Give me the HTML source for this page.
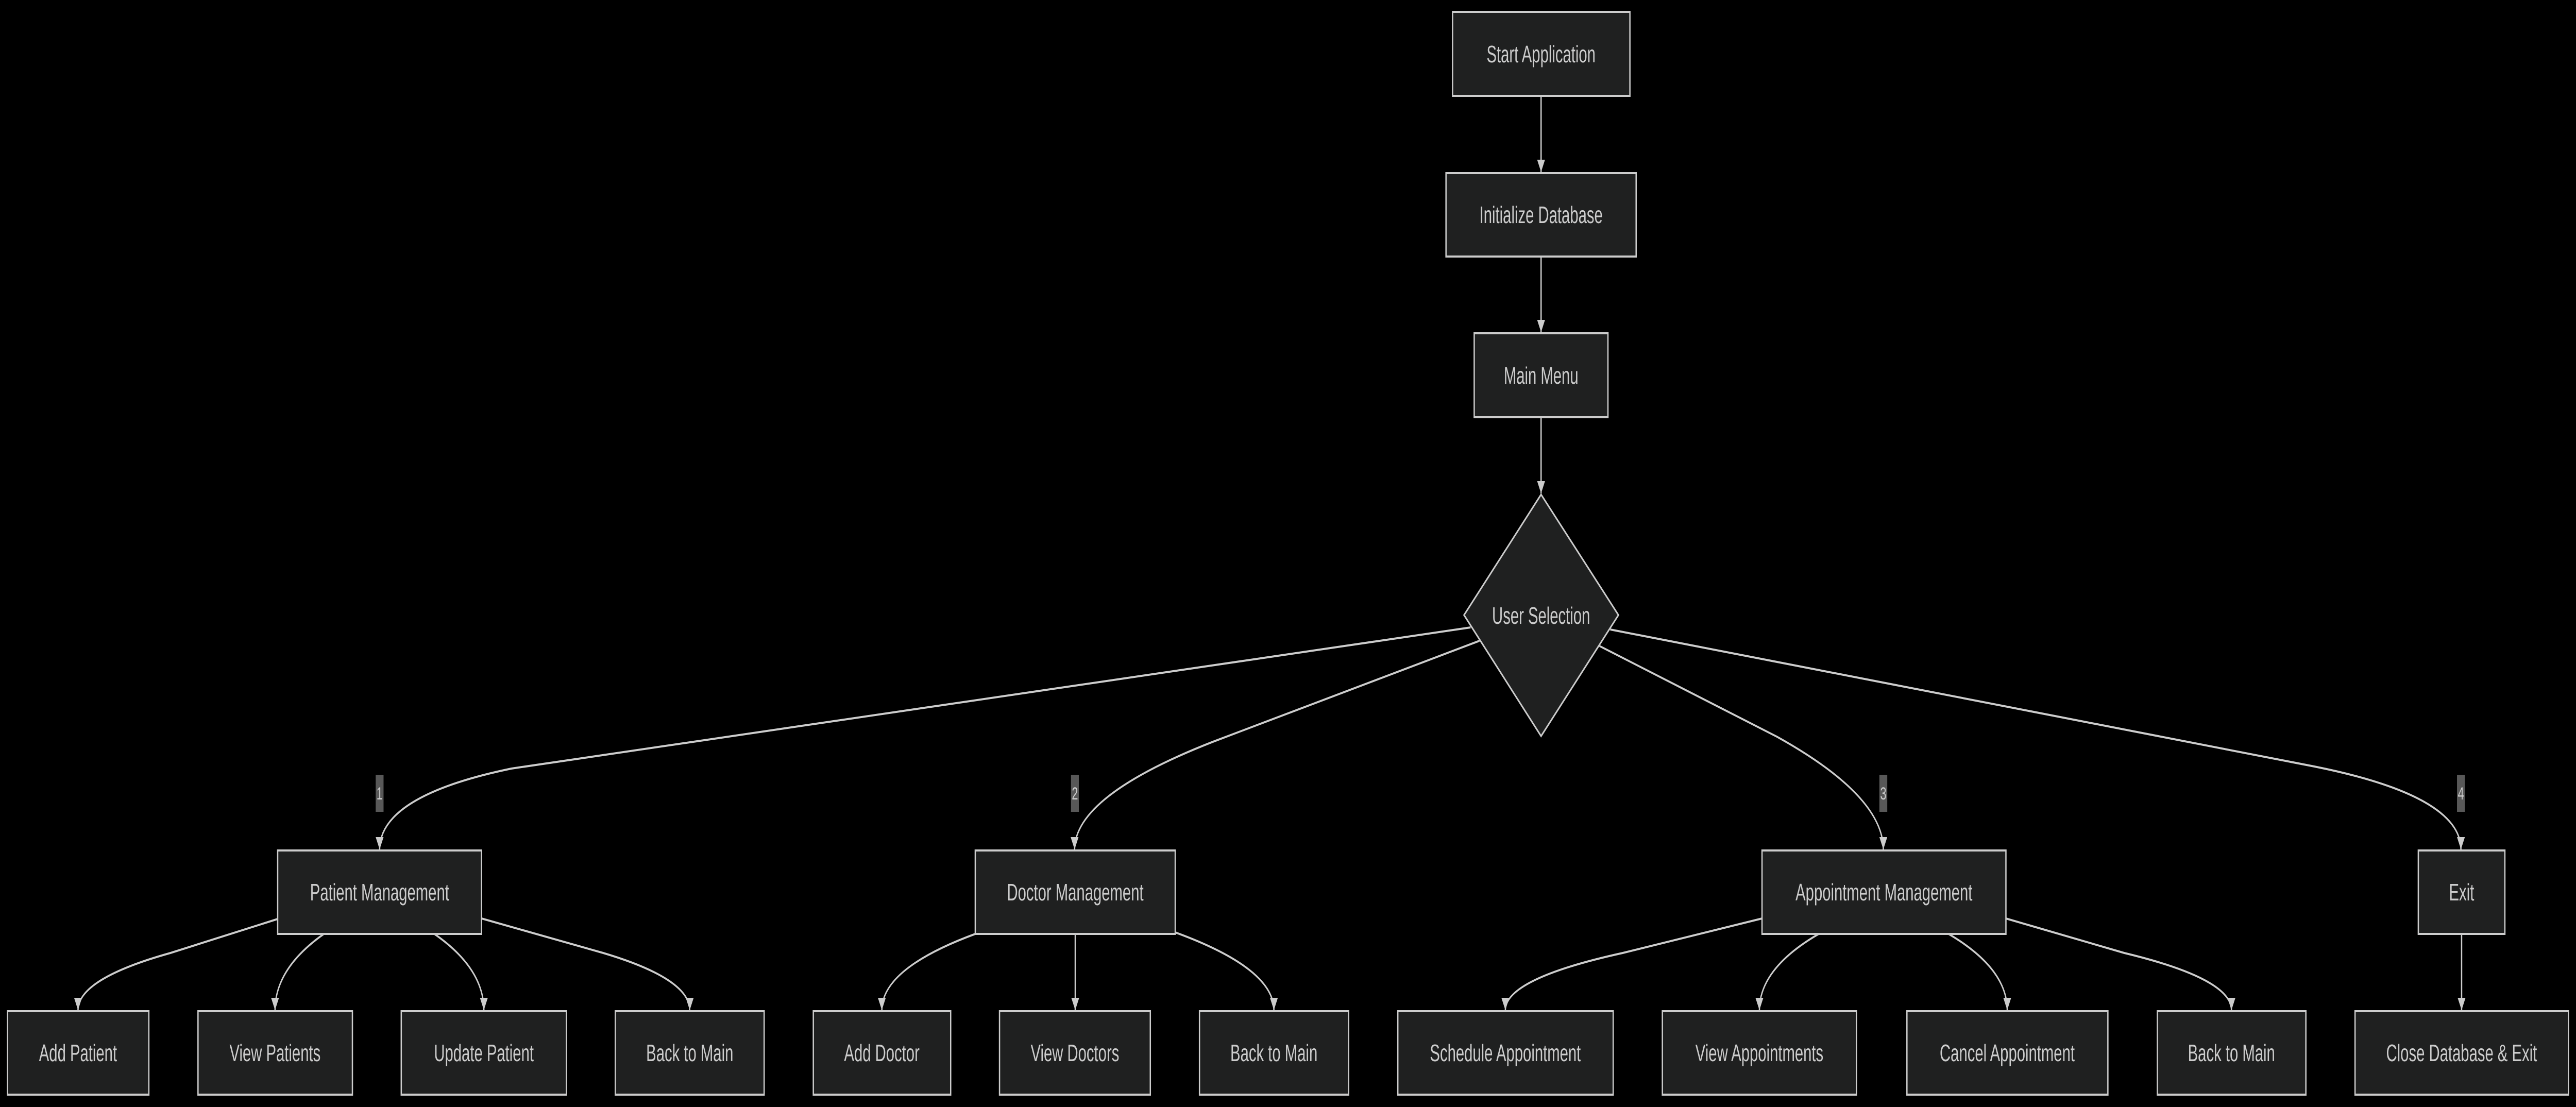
<!DOCTYPE html>
<html><head><meta charset="utf-8"><style>
html,body{margin:0;padding:0;background:#000;width:100%;height:100%;overflow:hidden;}
svg{display:block;width:100vw;height:100vh;}
text{font-family:"Liberation Sans",sans-serif;fill:#cccccc;}
</style></head><body>
<svg viewBox="0 0 7858 2149" preserveAspectRatio="none" xmlns="http://www.w3.org/2000/svg">
<defs>
<marker id="a" markerUnits="userSpaceOnUse" markerWidth="26" markerHeight="26" refX="24" refY="12" orient="auto">
<path d="M0,0 L24,12 L0,24 z" fill="#cccccc"/>
</marker>
</defs>
<rect width="7858" height="2149" fill="#000"/>
<g fill="none" stroke="#cccccc" stroke-width="4" marker-end="url(#a)">
<path d="M4701 186 L4701 334"/>
<path d="M4701 498 L4701 645"/>
<path d="M4701 810 L4701 958"/>
<path d="M4486 1218 L1560 1492 Q1158 1545 1158 1649"/>
<path d="M4513 1244 L3700 1440 Q3278 1545 3278 1649"/>
<path d="M4879 1254 L5420 1430 Q5745 1545 5745 1649"/>
<path d="M4912 1222 L7060 1488 Q7507 1545 7507 1649"/>
<path d="M847 1784 L520 1850 Q238 1900 238 1961"/>
<path d="M988 1813 Q839 1880 839 1961"/>
<path d="M1325 1813 Q1476 1880 1476 1961"/>
<path d="M1469 1783 L1840 1850 Q2104 1900 2104 1961"/>
<path d="M2975 1813 Q2690 1880 2690 1961"/>
<path d="M3280 1813 L3280 1961"/>
<path d="M3585 1810 Q3886 1880 3886 1961"/>
<path d="M5375 1783 L4950 1850 Q4592 1900 4592 1961"/>
<path d="M5548 1813 Q5367 1880 5367 1961"/>
<path d="M5944 1813 Q6123 1880 6123 1961"/>
<path d="M6119 1783 L6480 1850 Q6807 1900 6807 1961"/>
<path d="M7509 1813 L7509 1961"/>
</g>
<g fill="#1f2020" stroke="#cccccc" stroke-width="4">
<rect x="4431" y="23" width="541" height="163"/>
<rect x="4411" y="336" width="580" height="162"/>
<rect x="4497" y="647" width="408" height="163"/>
<polygon points="4701,960 4937,1194 4701,1429 4466,1194"/>
<rect x="847" y="1651" width="622" height="162"/>
<rect x="2975" y="1651" width="610" height="162"/>
<rect x="5375" y="1651" width="744" height="162"/>
<rect x="7377" y="1651" width="264" height="162"/>
<rect x="23" y="1963" width="431" height="162"/>
<rect x="604" y="1963" width="471" height="162"/>
<rect x="1224" y="1963" width="504" height="162"/>
<rect x="1877" y="1963" width="454" height="162"/>
<rect x="2481" y="1963" width="419" height="162"/>
<rect x="3049" y="1963" width="460" height="162"/>
<rect x="3659" y="1963" width="455" height="162"/>
<rect x="4264" y="1963" width="657" height="162"/>
<rect x="5071" y="1963" width="592" height="162"/>
<rect x="5817" y="1963" width="613" height="162"/>
<rect x="6581" y="1963" width="453" height="162"/>
<rect x="7184" y="1963" width="651" height="162"/>
</g>
<g fill="#585858">
<rect x="1146" y="1504" width="24" height="72"/>
<rect x="3267" y="1504" width="24" height="72"/>
<rect x="5733" y="1504" width="24" height="72"/>
<rect x="7495" y="1504" width="24" height="72"/>
</g>
<g font-size="34" text-anchor="middle">
<text x="1158" y="1552">1</text>
<text x="3279" y="1552">2</text>
<text x="5745" y="1552">3</text>
<text x="7507" y="1552">4</text>
</g>
<g font-size="46" text-anchor="middle">
<text x="4701" y="121">Start Application</text>
<text x="4701" y="433">Initialize Database</text>
<text x="4701" y="745">Main Menu</text>
<text x="4701" y="1211">User Selection</text>
<text x="1158" y="1748">Patient Management</text>
<text x="3280" y="1748">Doctor Management</text>
<text x="5747" y="1748">Appointment Management</text>
<text x="7509" y="1748">Exit</text>
<text x="238" y="2060">Add Patient</text>
<text x="839" y="2060">View Patients</text>
<text x="1476" y="2060">Update Patient</text>
<text x="2104" y="2060">Back to Main</text>
<text x="2690" y="2060">Add Doctor</text>
<text x="3279" y="2060">View Doctors</text>
<text x="3886" y="2060">Back to Main</text>
<text x="4592" y="2060">Schedule Appointment</text>
<text x="5367" y="2060">View Appointments</text>
<text x="6123" y="2060">Cancel Appointment</text>
<text x="6807" y="2060">Back to Main</text>
<text x="7509" y="2060">Close Database &amp; Exit</text>
</g>
</svg>
</body></html>
